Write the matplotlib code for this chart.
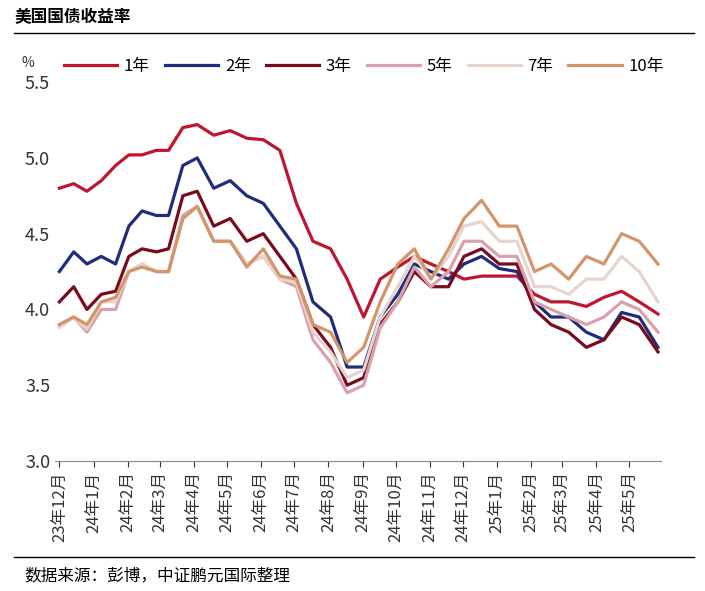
import pandas as pd
import matplotlib.pyplot as plt

plt.rcParams["font.family"] = "Noto Sans CJK SC"

# readings taken roughly every two weeks, Dec 2023 - early Jun 2025
dates = pd.to_datetime([
    "2023-12-01", "2023-12-14", "2023-12-26", "2024-01-08", "2024-01-21", "2024-02-02",
    "2024-02-14", "2024-02-27", "2024-03-09", "2024-03-22", "2024-04-04", "2024-04-19",
    "2024-05-04", "2024-05-19", "2024-06-03", "2024-06-18", "2024-07-03", "2024-07-18",
    "2024-08-03", "2024-08-18", "2024-09-02", "2024-09-17", "2024-10-03", "2024-10-18",
    "2024-11-02", "2024-11-18", "2024-12-02", "2024-12-18", "2025-01-03", "2025-01-19",
    "2025-02-04", "2025-02-19", "2025-03-07", "2025-03-23", "2025-04-08", "2025-04-24",
    "2025-05-10", "2025-05-27",
])

y1 = [4.80, 4.83, 4.78, 4.85, 4.95, 5.02, 5.02, 5.05, 5.05, 5.20, 5.22, 5.15, 5.18, 5.13, 5.12, 5.05,
      4.70, 4.45, 4.40, 4.20, 3.95, 4.20, 4.28, 4.35, 4.30, 4.25, 4.20, 4.22, 4.22, 4.22, 4.10, 4.05,
      4.05, 4.02, 4.08, 4.12, 4.05, 3.97]
y2 = [4.25, 4.38, 4.30, 4.35, 4.30, 4.55, 4.65, 4.62, 4.62, 4.95, 5.00, 4.80, 4.85, 4.75, 4.70, 4.55,
      4.40, 4.05, 3.95, 3.62, 3.62, 3.95, 4.10, 4.30, 4.25, 4.20, 4.30, 4.35, 4.27, 4.25, 4.05, 3.95,
      3.95, 3.85, 3.80, 3.98, 3.95, 3.75]
y3 = [4.05, 4.15, 4.00, 4.10, 4.12, 4.35, 4.40, 4.38, 4.40, 4.75, 4.78, 4.55, 4.60, 4.45, 4.50, 4.35,
      4.20, 3.90, 3.75, 3.50, 3.55, 3.90, 4.05, 4.25, 4.15, 4.15, 4.35, 4.40, 4.30, 4.30, 4.00, 3.90,
      3.85, 3.75, 3.80, 3.95, 3.90, 3.72]
y5 = [3.90, 3.95, 3.85, 4.00, 4.00, 4.25, 4.30, 4.25, 4.25, 4.62, 4.68, 4.45, 4.45, 4.30, 4.35, 4.20,
      4.15, 3.80, 3.65, 3.45, 3.50, 3.88, 4.05, 4.28, 4.15, 4.25, 4.45, 4.45, 4.35, 4.35, 4.05, 4.00,
      3.95, 3.90, 3.95, 4.05, 4.00, 3.85]
y7 = [3.88, 3.95, 3.87, 4.05, 4.05, 4.25, 4.30, 4.25, 4.25, 4.60, 4.68, 4.45, 4.45, 4.30, 4.35, 4.20,
      4.18, 3.85, 3.72, 3.55, 3.60, 3.95, 4.15, 4.35, 4.20, 4.35, 4.55, 4.58, 4.45, 4.45, 4.15, 4.15,
      4.10, 4.20, 4.20, 4.35, 4.25, 4.05]
y10 = [3.90, 3.95, 3.90, 4.05, 4.08, 4.25, 4.28, 4.25, 4.25, 4.60, 4.68, 4.45, 4.45, 4.28, 4.40, 4.22,
       4.20, 3.90, 3.85, 3.65, 3.75, 4.05, 4.30, 4.40, 4.20, 4.40, 4.60, 4.72, 4.55, 4.55, 4.25, 4.30,
       4.20, 4.35, 4.30, 4.50, 4.45, 4.30]

names = ["1年", "2年", "3年", "5年", "7年", "10年"]
colors = ["#C0152F", "#1F2D7A", "#7A0A1E", "#D9A0AE", "#E6D5CC", "#D4956A"]
series = [y1, y2, y3, y5, y7, y10]

fig = plt.figure(figsize=(7.05, 5.91), dpi=100)
ax = fig.add_axes([0.078, 0.22, 0.86, 0.641])

for name, c, s in zip(names, colors, series):
    ax.plot(dates, s, color=c, lw=2.3, label=name)

ax.set_ylim(3.0, 5.5)
ax.set_yticks([3.0, 3.5, 4.0, 4.5, 5.0, 5.5])
ax.set_xlim(pd.Timestamp("2023-11-27"), pd.Timestamp("2025-05-30"))
ticks = pd.date_range("2023-12-01", "2025-05-01", freq="MS")
ax.set_xticks(ticks)
ax.set_xticklabels([f"{d.year % 100}年{d.month}月" for d in ticks], rotation=90, fontsize=12)
ax.tick_params(axis="y", length=0, labelsize=13, colors="#333333")
ax.tick_params(axis="x", length=4, colors="#333333")
for sp in ["top", "right", "left"]:
    ax.spines[sp].set_visible(False)
ax.spines["bottom"].set_color("#888888")

ax.text(-0.055, 1.04, "%", transform=ax.transAxes, fontsize=10, color="#333333")
ax.legend(loc="lower left", bbox_to_anchor=(-0.01, 0.98), ncol=6, frameon=False,
          handlelength=3.2, handletextpad=0.4, columnspacing=0.9, fontsize=12)

fig.text(0.02, 0.962, "美国国债收益率", fontsize=12, fontweight="bold")
fig.add_artist(plt.Line2D([0.02, 0.985], [0.944, 0.944], color="black", lw=1))
fig.add_artist(plt.Line2D([0.02, 0.985], [0.058, 0.058], color="black", lw=1))
fig.text(0.035, 0.018, "数据来源：彭博，中证鹏元国际整理", fontsize=12)

fig.savefig("out.png", dpi=100)
